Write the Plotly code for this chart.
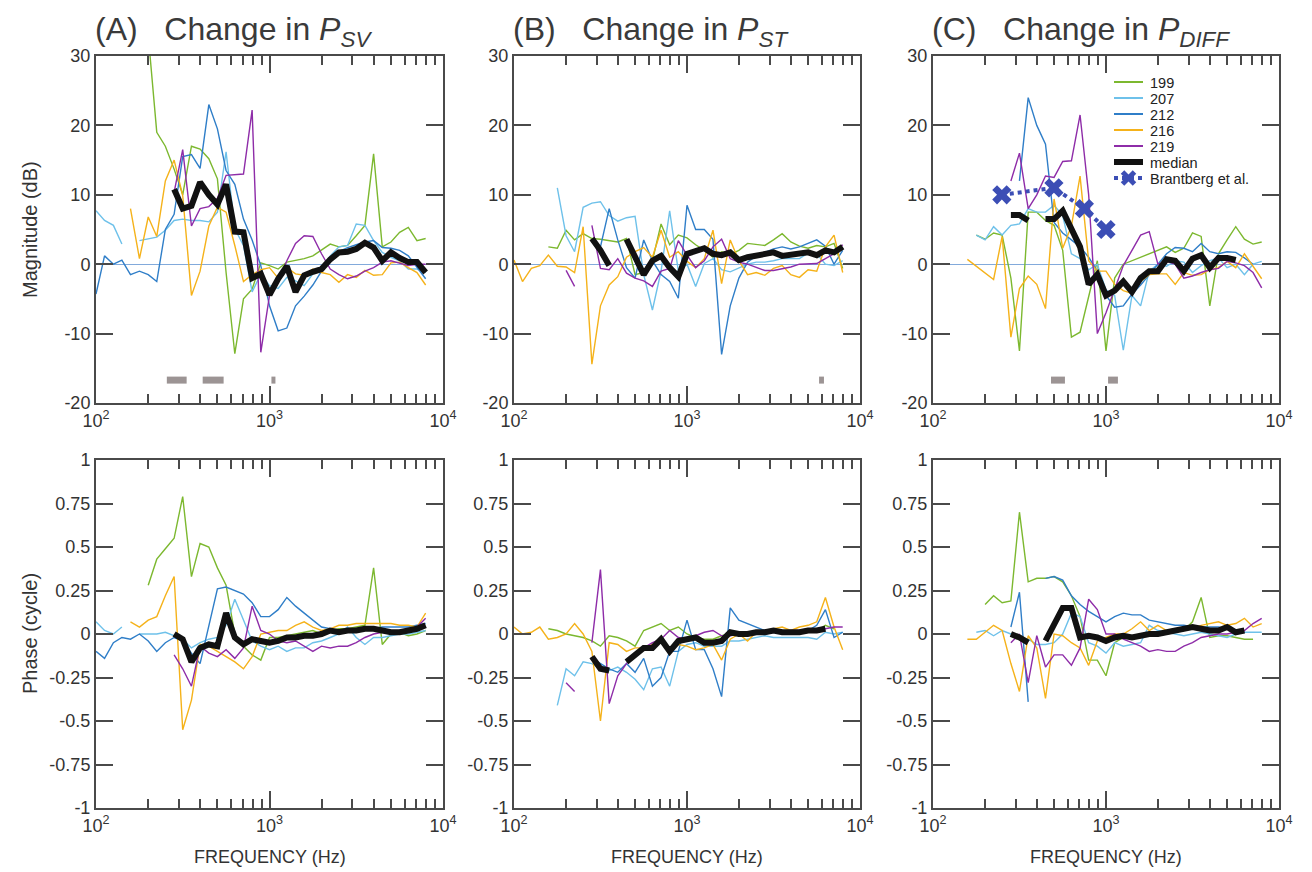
import plotly.graph_objects as go

# ---------------- data ----------------
FREQ = [100, 112, 126, 141, 158, 178, 200, 224, 251, 282, 316, 355, 398, 447, 501,
        562, 631, 708, 794, 891, 1000, 1122, 1259, 1413, 1585, 1778, 1995, 2239,
        2512, 2818, 3162, 3548, 3981, 4467, 5012, 5623, 6310, 7079, 7943]
N = None
SERIES = ['199', '207', '212', '216', '219']
COLORS = {'199': '#7cb82f', '207': '#6ec1ea', '212': '#2f7ec8',
          '216': '#f5b21a', '219': '#8e2ca8'}

# Magnitude (dB), panel A (P_SV)
MAG_A_199 = [N]*6 + [33, 19, 17, 13.7, 10, 17, 16.6, 15.2, 12.3, -1.2, -12.9, -5, -3.6, 0.2, -0.2, -0.7, 0.3, 0.5, 0.8, 1.2, 2, 2.9, 2.5, 2.7, 4.1, 5.6, 15.9, 2.5, 3.2, 4.6, 5.3, 3.4, 3.7]
MAG_A_207 = [7.7, 6.3, 5.6, 2.9, N, 3.4, 3.7, 3.9, 4.9, 6.3, 6.5, 6.3, 6.3, 6.1, 7.5, 16.2, 5.1, 2.7, -4, -1.4, -3.1, -3.5, -1.9, -2.4, -3.1, -1.4, -0.9, 1.2, 2.5, 2.7, 5.8, 5.6, 3.4, 1.7, 1, 0.5, -0.7, -0.7, -1.2]
MAG_A_212 = [-4.3, 1.2, 0.0, 0.6, -1.5, -1.0, -1.5, -2.5, 5.0, 7.2, 15.5, 15.8, 13.8, 23, 19.5, 13.5, 11.5, 6.5, 3.5, -0.2, -6, -9.6, -9.2, -6, -4.6, -3, -1, 0.8, 1.8, 2.4, 2.8, 3.2, 3.4, 2.4, 2.3, 2.0, 1.2, -0.5, -2.1]
MAG_A_216 = [N]*4 + [8.0, 0.8, 6.8, 4.0, 12.0, 15.0, 9.9, -4.5, -1, 5.5, 8.2, 7.5, 2.7, -2.5, -1.5, -0.8, -0.5, -2, -0.5, -1.4, -1.6, -0.7, -1.2, -1.5, -2.6, -1.5, -1.9, -0.9, -1.6, -1.5, 0.2, 0.3, -0.5, -1.2, -3.0]
MAG_A_219 = [N]*9 + [10.4, 16.5, 5.5, 8, 8.3, 9.5, 12.8, 12.9, 13, 22.2, -12.7, -4.5, -2.5, 0.5, 3, 4.1, 4.0, 1.5, -0.7, -1.5, -2.1, -1.7, -1.0, -0.5, 0.3, 0.5, 0.2, -0.2, 0.0, 0.0]
MAG_A_MED = [N]*9 + [10.8, 8.0, 8.4, 11.8, 10.0, 8.6, 11.5, 4.7, 4.6, -2.0, -1.4, -4.4, -2.1, -0.3, -4, -1.6, -1.1, -0.7, 0.7, 1.7, 1.8, 2.2, 3.1, 2.4, 0.5, 1.7, 0.9, 0.3, 0.3, -1.2]

# Magnitude (dB), panel B (P_ST)
MAG_B_199 = [N]*4 + [2.5, 2.3, 4.9, 3.5, 4.4, 3.7, 3.6, 3.4, 3.2, 3.7, -1.5, -1.2, 0.5, 5.8, 2.8, 4.2, 3.8, 2.8, 2, 1, 1.8, 1.4, 2, 3, 2.8, 2.7, 3.5, 4.4, 3.2, 2.6, 2.3, 2.7, 2.5, 3, -0.6]
MAG_B_207 = [N]*5 + [11, 4.1, 1.8, 8.2, 8.8, 9.0, 7.0, 6.2, 6.7, 6.9, -1.5, -6.6, -1.0, 7.7, -1.0, 0, -3.2, 0.1, 0.8, -0.8, -1.1, -0.6, 0, 0.3, 0.3, 0.5, 0.8, 0.8, 0.8, 1.6, 1.5, 0, -0.2, 0.5]
MAG_B_212 = [N]*10 + [2.5, 8.0, 3.5, -0.5, -2, 3.5, 0.5, -1.5, -2.5, -4.9, 8.5, 5, 5, 3.6, -13.0, -6.0, -2.0, 0.3, 1.2, 1.7, 2.2, 2.5, 2.2, 2.5, 3, 3.5, 2.6, 0, 2]
MAG_B_216 = [0.6, -2.5, -0.6, -0.2, 1.3, -0.3, -0.4, -1.2, 5.4, -14.4, -6, -3.0, -1.8, 1, 1.8, 2.4, 1.0, 4.9, 1.0, 1.8, 0.4, -0.5, 0.8, 4.9, -2.8, 3.5, 0.5, -1.5, -1.2, -1.6, -0.6, -0.2, -1.5, -1.9, -0.8, -1.0, 2.5, 4.2, -1.2]
MAG_B_219 = [N]*6 + [-0.9, -3.2, N, 5.6, -0.6, -0.8, 0.8, -1.3, -2.0, -2.4, -3.2, -1.0, -0.6, 3.4, 1.3, -0.5, 0.5, 2.5, 3.6, 0.8, 0.3, 0, -0.5, -0.9, -0.9, -0.7, -0.4, 0, 0.1, 0.1, 0.8, 1.5, 2.8]
MAG_B_MED = [N]*9 + [3.7, 2.0, -0.2, N, 3.6, 1.0, -1.5, 0.5, 1.2, -0.5, -1.8, 1.5, 1.8, 2.3, 1.5, 1.3, 1.7, 0.6, 1.0, 1.3, 1.5, 1.7, 1.2, 1.4, 1.4, 1.7, 1.3, 2.0, 1.7, 2.5]

# Magnitude (dB), panel C (P_DIFF)
MAG_C_199 = [N]*5 + [4.2, 3.6, 4.5, 4.2, -2, -12.5, 7.5, 7.5, 6.3, 5.6, 2, -10.5, -9.8, -4.5, 0.5, -12.5, -2, 0, 0.5, 0.9, 1.4, 2, 2.5, 1.7, 2.3, 4.5, 4.0, -6.0, 1.5, 3.5, 5.4, 3.6, 2.9, 3.2]
MAG_C_207 = [N]*5 + [4.2, 3.5, 5.4, 4.2, 5.6, 5.8, 8, 7.5, 7.5, 8.5, 7, 1.5, 0.8, -0.8, 0, -3.7, -4.5, -12.4, -4.5, -6, -1, 0, -0.3, 0.5, 0.3, -1.2, -0.2, 0.5, 0.9, -0.5, 0, -1.5, 0, 0.4]
MAG_C_212 = [N]*10 + [12, 24, 20, 17.3, 6, 4.5, 3.5, 2.5, 1.0, -1, -4.5, -6.2, -6.0, -4.3, -3, -1.5, 0, 1.5, 2.4, 2.3, 1.8, 3, 1.8, 1.5, 1.8, 1.7, 0.9, 0, N]
MAG_C_216 = [N]*4 + [0.7, -0.3, -1.3, -2.2, 4.0, -10.5, -3.5, -1.7, -2.9, -6.4, 9.4, 2.3, 5.5, 12.7, 0.5, -1.0, -1.0, -2.9, -3.8, -4.2, -2.5, -1.5, -1.4, -1.4, -2.9, -1.2, -1.6, -1.5, -0.8, -0.5, 0.4, -0.5, 1.5, -0.3, -2.1]
MAG_C_219 = [N]*9 + [12, 16, 8, 10, 12.7, 12.5, 14.8, 14.9, 21.5, 10, -10, -7, -3.6, -0.2, 2, 4.2, 4.7, 0, 0.4, 0, -2.0, -1.7, -1.2, -0.8, -0.6, 0.4, 0.2, -0.2, -1.2, -3.4]
MAG_C_MED = [N]*9 + [7.1, 7.1, 6.3, N, 6.5, 6.5, 7.7, 5.0, 2.5, -2.9, -1.5, -4.5, -3.8, -2.5, -4.0, -2.0, -1.0, -1.0, 0.7, 0.5, -1.0, 0.8, 1.3, -0.5, 0.9, 0.9, 0.6, N, N, N]

# Brantberg et al.
BRANT_F = [250, 500, 750, 1000]
BRANT_DB = [10, 11, 8, 5]

# Phase (cycle), panel A
PH_A_199 = [N]*6 + [0.28, 0.43, 0.49, 0.55, 0.79, 0.33, 0.52, 0.5, 0.38, 0.28, 0.0, -0.07, -0.12, -0.15, -0.02, -0.02, -0.01, 0.0, 0.01, 0.02, 0.0, 0.02, 0.03, 0.03, 0.04, 0.05, 0.38, -0.06, 0.0, 0.01, -0.01, 0.0, 0.02]
PH_A_207 = [0.07, 0.02, 0.0, 0.04, N, 0.0, 0.0, 0.0, 0.01, -0.01, -0.03, -0.08, -0.05, -0.03, -0.02, 0.05, 0.2, 0.08, -0.04, -0.07, -0.09, -0.07, -0.1, -0.08, -0.08, -0.05, -0.04, -0.02, 0.0, 0.04, -0.02, -0.06, -0.02, -0.02, -0.01, 0.0, 0.0, 0.01, 0.02]
PH_A_212 = [-0.1, -0.14, -0.05, -0.02, -0.03, 0.0, -0.04, -0.1, -0.05, -0.02, -0.04, -0.11, -0.17, 0.05, 0.26, 0.27, 0.25, 0.23, 0.18, 0.1, 0.1, 0.14, 0.21, 0.16, 0.12, 0.08, 0.04, 0.03, 0.02, 0.01, 0.02, 0.03, 0.03, 0.04, 0.04, 0.04, 0.04, 0.05, 0.06]
PH_A_216 = [N]*4 + [0.07, 0.04, 0.08, 0.1, 0.22, 0.33, -0.55, -0.38, -0.06, -0.07, -0.1, -0.13, -0.16, -0.2, -0.13, 0.0, 0.01, 0.02, 0.02, 0.05, 0.07, 0.04, 0.02, 0.03, 0.05, 0.05, 0.06, 0.06, 0.06, 0.06, 0.06, 0.05, 0.05, 0.04, 0.12]
PH_A_219 = [N]*9 + [-0.12, -0.2, -0.3, -0.07, -0.11, -0.13, -0.09, -0.14, -0.08, 0.16, 0.02, 0.0, -0.04, -0.05, -0.04, -0.07, -0.1, -0.07, -0.08, -0.07, -0.07, -0.05, -0.02, 0.0, 0.01, 0.01, 0.02, 0.02, 0.04, 0.09]
PH_A_MED = [N]*9 + [0.0, -0.03, -0.16, -0.08, -0.06, -0.07, 0.12, -0.02, -0.06, -0.03, -0.04, -0.05, -0.04, -0.02, -0.02, -0.01, -0.01, 0.0, 0.02, 0.01, 0.02, 0.02, 0.03, 0.03, 0.02, 0.01, 0.01, 0.02, 0.03, 0.05]

# Phase (cycle), panel B
PH_B_199 = [N]*4 + [0.03, 0.02, 0.0, -0.01, -0.02, -0.04, -0.07, -0.01, -0.02, -0.04, -0.07, 0.02, 0.04, 0.06, 0.02, 0.04, 0.0, -0.02, -0.03, -0.03, -0.01, 0.0, 0.01, 0.01, 0.01, 0.01, 0.02, 0.02, 0.01, 0.01, 0.01, 0.02, 0.05, 0.03, N]
PH_B_207 = [N]*5 + [-0.41, -0.2, -0.24, -0.16, -0.17, -0.2, -0.21, -0.19, -0.22, -0.26, -0.32, -0.2, -0.19, -0.3, -0.1, -0.06, -0.05, -0.07, -0.07, -0.07, -0.04, -0.04, -0.03, -0.02, -0.01, -0.02, -0.02, -0.02, -0.02, -0.02, -0.03, 0.01, 0.0, 0.01]
PH_B_212 = [N]*9 + [-0.14, -0.17, -0.2, -0.22, -0.17, -0.22, -0.14, -0.3, -0.25, -0.1, -0.1, 0.08, -0.09, -0.09, -0.2, -0.36, 0.15, 0.08, 0.06, 0.04, 0.02, 0.01, 0.01, 0.01, 0.01, 0.02, 0.05, 0.14, -0.02, 0.01]
PH_B_216 = [0.04, 0.0, 0.01, 0.04, -0.03, -0.02, 0.0, 0.06, 0.0, -0.1, -0.5, -0.05, -0.06, -0.1, -0.08, -0.08, -0.06, -0.02, -0.1, -0.06, -0.07, -0.09, -0.08, -0.06, -0.15, -0.03, 0.0, -0.04, 0.01, 0.02, 0.03, 0.04, 0.02, 0.04, 0.05, 0.07, 0.21, 0.04, -0.09]
PH_B_219 = [N]*6 + [-0.28, -0.33, N, -0.05, 0.37, -0.4, -0.24, -0.17, -0.11, -0.08, -0.05, -0.03, 0.02, -0.02, -0.03, -0.01, 0.01, 0.02, -0.01, -0.01, 0.0, -0.01, 0.0, 0.0, 0.01, 0.01, 0.02, 0.02, 0.03, 0.03, 0.03, 0.04, 0.04]
PH_B_MED = [N]*9 + [-0.13, -0.2, -0.21, N, -0.16, -0.12, -0.08, -0.08, -0.03, -0.1, -0.04, -0.03, -0.02, -0.05, -0.05, -0.04, 0.01, 0.0, 0.0, 0.01, 0.01, 0.02, 0.01, 0.01, 0.01, 0.02, 0.02, 0.03, N, N]

# Phase (cycle), panel C
PH_C_199 = [N]*6 + [0.17, 0.22, 0.18, 0.19, 0.7, 0.3, 0.32, 0.32, 0.33, 0.3, 0.22, 0.1, -0.15, -0.15, -0.24, -0.05, -0.02, -0.02, -0.01, 0.0, 0.0, 0.0, 0.01, 0.02, 0.07, 0.21, -0.02, -0.01, -0.01, -0.02, -0.03, -0.03, N]
PH_C_207 = [N]*5 + [0.01, 0.02, -0.01, 0.02, 0.0, -0.02, -0.03, -0.06, -0.06, -0.05, 0.0, 0.12, 0.1, -0.05, -0.07, -0.11, -0.05, -0.07, -0.06, -0.05, 0.05, 0.02, 0.01, 0.0, -0.01, 0.0, 0.01, 0.0, -0.01, -0.02, 0.0, 0.01, 0.01, 0.01]
PH_C_212 = [N]*9 + [0.04, 0.24, -0.39, N, 0.32, 0.33, 0.31, 0.22, 0.17, 0.13, 0.1, 0.07, 0.1, 0.12, 0.11, 0.11, 0.08, 0.07, 0.06, 0.05, 0.05, 0.04, 0.04, 0.04, 0.04, 0.03, 0.02, N, N]
PH_C_216 = [N]*4 + [-0.03, -0.03, 0.01, 0.05, 0.02, -0.17, -0.33, -0.01, -0.08, -0.37, 0.0, -0.01, -0.05, -0.08, -0.18, -0.04, -0.02, 0.0, 0.0, 0.03, 0.07, 0.02, 0.05, 0.02, 0.03, 0.03, 0.03, 0.05, 0.06, 0.07, 0.05, 0.06, 0.09, 0.04, 0.06]
PH_C_219 = [N]*9 + [-0.05, 0.0, -0.28, -0.01, -0.19, -0.12, -0.12, -0.18, -0.08, 0.2, 0.14, 0.0, 0.0, -0.03, -0.05, -0.07, -0.1, -0.09, -0.1, -0.1, -0.07, -0.05, -0.02, -0.01, 0.0, 0.0, 0.01, 0.02, 0.06, 0.09]
PH_C_MED = [N]*9 + [0.0, -0.02, -0.05, N, -0.04, 0.06, 0.15, 0.15, -0.02, -0.01, -0.02, -0.04, -0.02, -0.01, -0.02, -0.01, 0.0, 0.0, 0.01, 0.02, 0.03, 0.04, 0.03, 0.02, 0.02, 0.04, 0.01, 0.02, N, N]

# significant frequency ranges (Hz) shown as grey bars
SIG_A = [[256, 333], [412, 544], [1026, 1082]]
SIG_B = [[5800, 6190]]
SIG_C = [[481, 579], [1028, 1172]]
SIG_LEVEL = -16.7

MAG_TICKS = [-20, -10, 0, 10, 20, 30]
PH_TICKS = [-1, -0.75, -0.5, -0.25, 0, 0.25, 0.5, 0.75, 1]
X_TICKS = [100, 1000, 10000]
X_TICKTEXT = ['10<sup>2</sup>', '10<sup>3</sup>', '10<sup>4</sup>']
X_MINOR = [200, 300, 400, 500, 600, 700, 800, 900,
           2000, 3000, 4000, 5000, 6000, 7000, 8000, 9000]
LEGEND_NAMES = SERIES + ['median', 'Brantberg et al.']

# ---------------- figure ----------------
W, H = 1312, 872
FONT = 'Liberation Sans, Arial, Helvetica, sans-serif'
AX = '#4a4a4a'
TXT = '#333333'

def px(x):
    return x / W

def py(y):
    return 1 - y / H

COLS = [(96, 443), (514, 860), (933, 1279)]
ROWS = [(56, 403), (460, 808)]

panels = [
    (MAG_A_199, MAG_A_207, MAG_A_212, MAG_A_216, MAG_A_219, MAG_A_MED),
    (MAG_B_199, MAG_B_207, MAG_B_212, MAG_B_216, MAG_B_219, MAG_B_MED),
    (MAG_C_199, MAG_C_207, MAG_C_212, MAG_C_216, MAG_C_219, MAG_C_MED),
    (PH_A_199, PH_A_207, PH_A_212, PH_A_216, PH_A_219, PH_A_MED),
    (PH_B_199, PH_B_207, PH_B_212, PH_B_216, PH_B_219, PH_B_MED),
    (PH_C_199, PH_C_207, PH_C_212, PH_C_216, PH_C_219, PH_C_MED),
]
sigs = [SIG_A, SIG_B, SIG_C]

fig = go.Figure()

for i, data in enumerate(panels):
    ax = '' if i == 0 else str(i + 1)
    xa, ya = 'x' + ax, 'y' + ax
    if i < 3:
        for (f0, f1) in sigs[i]:
            fig.add_trace(go.Scatter(x=[f0, f1], y=[SIG_LEVEL, SIG_LEVEL], mode='lines',
                                     line=dict(color='#9c9494', width=7),
                                     showlegend=False, hoverinfo='skip',
                                     xaxis=xa, yaxis=ya))
    for name, vals in zip(SERIES, data[:5]):
        fig.add_trace(go.Scatter(x=FREQ, y=vals, mode='lines', name=name,
                                 line=dict(color=COLORS[name], width=1.4),
                                 showlegend=False, xaxis=xa, yaxis=ya))
    fig.add_trace(go.Scatter(x=FREQ, y=data[5], mode='lines', name='median',
                             line=dict(color='#111111', width=6),
                             showlegend=False, xaxis=xa, yaxis=ya))
    if i == 2:
        fig.add_trace(go.Scatter(x=BRANT_F, y=BRANT_DB, mode='lines+markers',
                                 name='Brantberg et al.',
                                 line=dict(color='#3c4eb5', width=4, dash='dot'),
                                 marker=dict(symbol='x', size=17, color='#3c4eb5'),
                                 showlegend=False, xaxis=xa, yaxis=ya))

layout = dict(
    width=W, height=H,
    margin=dict(l=0, r=0, t=0, b=0, autoexpand=False),
    paper_bgcolor='white', plot_bgcolor='white',
    font=dict(family=FONT, color=TXT),
    showlegend=False,
)

for i in range(6):
    r, c = divmod(i, 3)
    ax = '' if i == 0 else str(i + 1)
    x0, x1 = COLS[c]
    y0, y1 = ROWS[r]
    layout['xaxis' + ax] = dict(
        domain=[px(x0), px(x1)], anchor='y' + ax, type='log', range=[2, 4],
        tickmode='array', tickvals=X_TICKS, ticktext=X_TICKTEXT,
        ticks='inside', ticklen=17, tickwidth=2, tickcolor=AX,
        showline=True, linecolor=AX, linewidth=2, mirror='allticks',
        showgrid=False, zeroline=False, automargin=False,
        minor=dict(tickmode='array', tickvals=X_MINOR, ticks='inside', ticklen=9,
                   tickwidth=2, tickcolor=AX, showgrid=False),
        tickfont=dict(size=18, color=TXT, family=FONT),
    )
    if r == 0:
        yt = MAG_TICKS
        yr = [-20, 30]
    else:
        yt = PH_TICKS
        yr = [-1, 1]
    layout['yaxis' + ax] = dict(
        domain=[py(y1), py(y0)], anchor='x' + ax, range=yr,
        tickmode='array', tickvals=yt, ticktext=[('%g' % v) for v in yt],
        ticks='inside', ticklen=17, tickwidth=2, tickcolor=AX,
        showline=True, linecolor=AX, linewidth=2, mirror='ticks',
        showgrid=False, automargin=False,
        zeroline=(r == 0), zerolinecolor='#82aadb', zerolinewidth=1.2,
        tickfont=dict(size=18, color=TXT, family=FONT),
    )

fig.update_layout(**layout)

annotations = []
shapes = []
titles = [('(A)', 'SV', 96), ('(B)', 'ST', 514), ('(C)', 'DIFF', 933)]
for lab, sub, xl in titles:
    annotations.append(dict(
        x=px(xl - 3), y=py(31), xref='paper', yref='paper', xanchor='left', yanchor='middle',
        text=lab + '\u00a0\u00a0 Change in <i>P<sub>' + sub + '</sub></i>',
        showarrow=False, font=dict(size=32, color='#3a3a3a', family=FONT)))
for c in range(3):
    x0, x1 = COLS[c]
    annotations.append(dict(
        x=px((x0 + x1) / 2), y=py(857), xref='paper', yref='paper',
        xanchor='center', yanchor='middle', text='FREQUENCY (Hz)', showarrow=False,
        font=dict(size=18, color=TXT, family=FONT)))
annotations.append(dict(x=px(30), y=py(230), xref='paper', yref='paper', textangle=-90,
                        xanchor='center', yanchor='middle', text='Magnitude (dB)',
                        showarrow=False, font=dict(size=20, color=TXT, family=FONT)))
annotations.append(dict(x=px(30), y=py(634), xref='paper', yref='paper', textangle=-90,
                        xanchor='center', yanchor='middle', text='Phase (cycle)',
                        showarrow=False, font=dict(size=20, color=TXT, family=FONT)))

# legend (drawn as a compact key inside panel C)
LEG_X0, LEG_X1, LEG_TX, LEG_Y0, LEG_DY = 1114, 1143, 1148, 82, 16
leg_colors = [COLORS[s] for s in SERIES] + ['#111111', '#3c4eb5']
for j, (nm, col) in enumerate(zip(LEGEND_NAMES, leg_colors)):
    yy = LEG_Y0 + j * LEG_DY
    if nm == 'median':
        lw, dash = 6, 'solid'
    elif nm.startswith('Brant'):
        lw, dash = 4, 'dot'
    else:
        lw, dash = 2, 'solid'
    shapes.append(dict(type='line', xref='paper', yref='paper',
                       x0=px(LEG_X0), x1=px(LEG_X1), y0=py(yy), y1=py(yy),
                       line=dict(color=col, width=lw, dash=dash)))
    if nm.startswith('Brant'):
        cx, s = (LEG_X0 + LEG_X1) / 2, 6
        for dx in (-1, 1):
            shapes.append(dict(type='line', xref='paper', yref='paper',
                               x0=px(cx - s), x1=px(cx + s), y0=py(yy - dx * s), y1=py(yy + dx * s),
                               line=dict(color=col, width=5)))
    annotations.append(dict(x=px(LEG_TX), y=py(yy + 0.5), xref='paper', yref='paper',
                            xanchor='left', yanchor='middle', text=nm, showarrow=False,
                            font=dict(size=14.5, color='#222222', family=FONT)))

fig.update_layout(annotations=annotations, shapes=shapes)

fig.write_html('out.html')
